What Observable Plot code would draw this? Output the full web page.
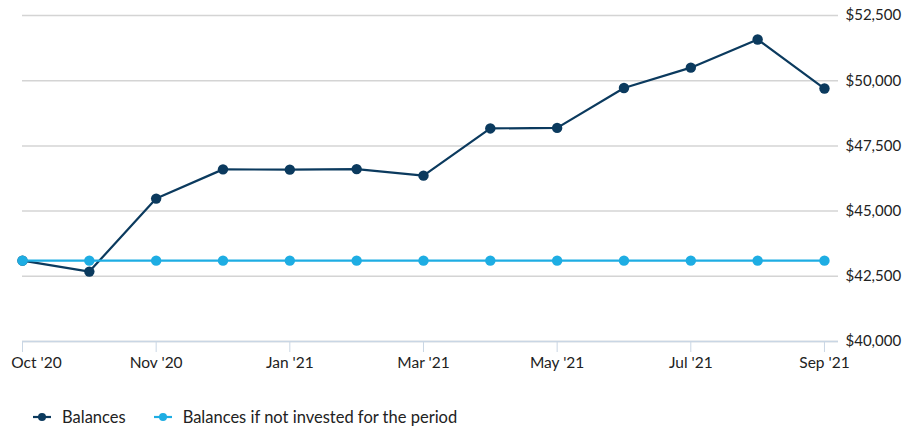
<!DOCTYPE html>
<html>
<head>
<meta charset="utf-8">
<script src="https://cdn.jsdelivr.net/npm/d3@7"></script>
<script src="https://cdn.jsdelivr.net/npm/@observablehq/plot@0.6"></script>
<style>
  body { margin: 0; background: #fff; font-family: Lato, "Open Sans", sans-serif; }
  #chart svg { display: block; }
  .legend { display: flex; align-items: center; margin-left: 33px; margin-top: 25px; font-size: 16.5px; color: #222; }
  .legend .item { display: flex; align-items: center; margin-right: 28px; }
  .legend svg { margin-right: 11px; }
</style>
</head>
<body>
<div id="chart"></div>
<div class="legend" id="legend"></div>
<script>
const tickLabels = ["Oct '20", "Nov '20", "Jan '21", "Mar '21", "May '21", "Jul '21", "Sep '21"];
const tickIndex = [0, 2, 4, 6, 8, 10, 12];
const balances = [43100, 42680, 45480, 46600, 46590, 46610, 46360, 48170, 48190, 49720, 50500, 51580, 49700];
const notInvested = [43100, 43100, 43100, 43100, 43100, 43100, 43100, 43100, 43100, 43100, 43100, 43100, 43100];
const yTicks = [40000, 42500, 45000, 47500, 50000, 52500];
const seriesNames = ["Balances", "Balances if not invested for the period"];
const colors = ["#0b3a5e", "#1eade3"];

const rows = [];
balances.forEach((v, i) => rows.push({i, v, s: seriesNames[0]}));
notInvested.forEach((v, i) => rows.push({i, v, s: seriesNames[1]}));

const labelOf = d => tickLabels[tickIndex.indexOf(d)];

const chart = Plot.plot({
  width: 916,
  height: 382,
  marginTop: 15,
  marginBottom: 41,
  marginLeft: 22,
  marginRight: 78,
  style: {fontFamily: "Lato, 'Open Sans', sans-serif", fontSize: "15px", color: "#222"},
  x: {domain: [0, 12.21]},
  y: {domain: [40000, 52500]},
  color: {domain: seriesNames, range: colors},
  marks: [
    Plot.gridY(yTicks, {stroke: "#d4d4d4", strokeOpacity: 1, strokeWidth: 1.5}),
    Plot.ruleY([40000], {stroke: "#c9d6e4", strokeWidth: 1.5}),
    Plot.axisX(tickIndex, {tickSize: 11, stroke: "#c9d6e4", tickFormat: () => "", label: null}),
    Plot.axisX(tickIndex.slice(0, 1), {tickSize: 0, tickPadding: 15, dx: 14, tickFormat: labelOf, fill: "#222", fontSize: 15.5, label: null}),
    Plot.axisX(tickIndex.slice(1), {tickSize: 0, tickPadding: 15, tickFormat: labelOf, fill: "#222", fontSize: 15.5, label: null}),
    Plot.axisY(yTicks, {anchor: "right", tickSize: 0, tickPadding: 7, textAnchor: "start", tickFormat: d => "$" + d3.format(",")(d), fontSize: 15, fill: "#222", label: null}),
    Plot.lineY(rows.filter(r => r.s === seriesNames[0]), {x: "i", y: "v", stroke: colors[0], strokeWidth: 2.2}),
    Plot.dot(rows.filter(r => r.s === seriesNames[0]), {x: "i", y: "v", fill: colors[0], r: 5.2}),
    Plot.lineY(rows.filter(r => r.s === seriesNames[1]), {x: "i", y: "v", stroke: colors[1], strokeWidth: 2.2}),
    Plot.dot(rows.filter(r => r.s === seriesNames[1]), {x: "i", y: "v", fill: colors[1], r: 5.2})
  ]
});
document.getElementById("chart").appendChild(chart);

const legend = document.getElementById("legend");
seriesNames.forEach((name, k) => {
  const item = document.createElement("div");
  item.className = "item";
  item.innerHTML = `<svg width="18" height="10"><line x1="0" y1="5" x2="18" y2="5" stroke="${colors[k]}" stroke-width="2.2"/><circle cx="9" cy="5" r="4" fill="${colors[k]}"/></svg><span>${name}</span>`;
  legend.appendChild(item);
});
</script>
</body>
</html>
